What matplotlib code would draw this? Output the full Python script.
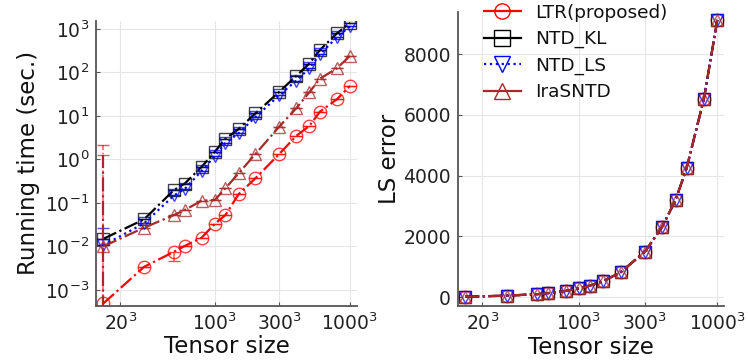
import matplotlib
matplotlib.use("Agg")
import matplotlib.pyplot as plt
import numpy as np

# ---------------- data ----------------
N = [15, 30, 50, 60, 80, 100, 120, 150, 200, 300, 400, 500, 600, 800, 1000]
sizes = [n ** 3 for n in N]

time_LTR = [4.9e-4, 3.4e-3, 7.6e-3, 1.03e-2, 1.6e-2, 3.3e-2, 5.3e-2, 0.159, 0.37,
            1.34, 3.47, 5.9, 12.6, 24.2, 49]
time_KL = [0.0150, 0.042, 0.20, 0.28, 0.68, 1.5, 3.0, 5.0, 11.5, 36, 83, 160, 330, 790, 1380]
time_LS = [0.0107, 0.034, 0.15, 0.21, 0.55, 1.2, 2.4, 4.0, 9.5, 30, 65, 125, 260, 650, 1150]
time_Ira = [0.0101, 0.027, 0.053, 0.069, 0.113, 0.117, 0.218, 0.48, 1.34, 5.7, 15, 35, 72, 125, 240]

# error bar extents (lower, upper) where visible
err_LTR_lo = [4.8e-4, 0, 0.0029, 0, 0, 0, 0, 0, 0, 0, 0, 0, 0, 0, 0]
err_LTR_hi = [2.1, 0, 0.0, 0, 0, 0, 0, 0, 0, 0, 0, 0, 0, 0, 0]
err_LS_hi = [0.016, 0, 0, 0, 0, 0, 0, 0, 0, 0, 0, 0, 0, 0, 0]
err_Ira_lo = [0.0100, 0, 0, 0, 0, 0, 0, 0, 0, 0, 0, 0, 0, 0, 0]
err_Ira_hi = [1.25, 0, 0, 0, 0, 0, 0, 0, 0, 0, 0, 0, 0, 0, 0]

ls_err = [17, 50, 100, 135, 205, 290, 380, 530, 820, 1500, 2320, 3210, 4250, 6530, 9130]

xticks = [20 ** 3, 100 ** 3, 300 ** 3, 1000 ** 3]
xticklabels = [r"$20^3$", r"$100^3$", r"$300^3$", r"$1000^3$"]
names = ["LTR(proposed)", "NTD_KL", "NTD_LS", "IraSNTD"]

# ---------------- style ----------------
plt.rcParams['font.family'] = ['DejaVu Sans']
plt.rcParams['mathtext.fontset'] = 'dejavusans'
RED = "#ff0000"
BLK = "#000000"
BLU = "#0000ff"
BRN = "#a52a2a"

fig = plt.figure(figsize=(7.48, 3.61), dpi=100)
axL = fig.add_axes([96 / 748, 1 - 306 / 361, (357 - 96) / 748, (306 - 20.7) / 361])
axR = fig.add_axes([458 / 748, 1 - 306 / 361, (724 - 458) / 748, (306 - 11.7) / 361])


def style_axes(ax):
    for s in ["top", "right"]:
        ax.spines[s].set_visible(False)
    for s in ["left", "bottom"]:
        ax.spines[s].set_color("#555555")
        ax.spines[s].set_linewidth(1.3)
    ax.grid(True, color="#e6e6e6", linewidth=0.8)
    ax.set_axisbelow(True)
    ax.tick_params(direction="in", length=3, width=0.8, colors="#555555",
                   labelcolor="#222222", labelsize=13.5, pad=5)
    ax.minorticks_off()


series = [
    (time_LTR, RED, "o", "-.", (err_LTR_lo, err_LTR_hi)),
    (time_KL, BLK, "s", "-.", None),
    (time_LS, BLU, "v", ":", ([0] * len(N), err_LS_hi)),
    (time_Ira, BRN, "^", "-.", (err_Ira_lo, err_Ira_hi)),
]

for i, ((vals, col, mk, ls, err), name) in enumerate(zip(series, names)):
    if err is None:
        yerr = np.zeros((2, len(N)))
    else:
        yerr = np.array(err)
    line, caps, bars = axL.errorbar(sizes, vals, yerr=yerr, color=col, linestyle=ls,
                                    linewidth=1.6, marker=mk, markersize=9,
                                    markerfacecolor="none", markeredgecolor=col,
                                    markeredgewidth=1.0, capsize=4.5, capthick=1.0,
                                    ecolor=col, elinewidth=1.2, label=name)
    for b in bars:
        b.set_linestyle(ls)
        if col == BRN:
            b.set_linewidth(1.6)
            b.set_zorder(4)
        elif col == RED:
            b.set_alpha(0.6)
    for c in caps:
        c.set_alpha(0.7)
    line.set_markeredgecolor(matplotlib.colors.to_rgba(col, 0.75))

axL.set_xscale("log")
axL.set_yscale("log")
axL.set_xlim(10 ** 3.365, 10 ** 9.155)
axL.set_ylim(10 ** -3.368, 10 ** 3.19)
style_axes(axL)
axL.set_xticks(xticks)
axL.set_xticklabels(xticklabels)
axL.set_yticks([1e-3, 1e-2, 1e-1, 1e0, 1e1, 1e2, 1e3])
axL.set_yticklabels([r"$10^{-3}$", r"$10^{-2}$", r"$10^{-1}$", r"$10^{0}$",
                     r"$10^{1}$", r"$10^{2}$", r"$10^{3}$"])
axL.minorticks_off()
axL.set_ylabel("Running time (sec.)", fontsize=16.5, color="#111111")
axL.set_xlabel("Tensor size", fontsize=16.5, color="#111111")
axL.yaxis.set_label_coords(-0.215, 0.5)
axL.xaxis.set_label_coords(0.5, -0.103)

# right panel
rstyles = [(RED, "o", "-."), (BLK, "s", "-."), (BLU, "v", ":"), (BRN, "^", "-.")]
for (col, mk, ls), name in zip(rstyles, names):
    axR.plot(sizes, ls_err, color=col, linestyle=ls, linewidth=1.6, marker=mk,
             markersize=9, markerfacecolor="none",
             markeredgecolor=matplotlib.colors.to_rgba(col, 0.75),
             markeredgewidth=1.0, label=name)

axR.set_xscale("log")
axR.set_xlim(10 ** 3.376, 10 ** 9.145)
axR.set_ylim(-290, 9400)
style_axes(axR)
axR.set_xticks(xticks)
axR.set_xticklabels(xticklabels)
axR.set_yticks([0, 2000, 4000, 6000, 8000])
axR.minorticks_off()
axR.set_ylabel("LS error", fontsize=16.5, color="#111111")
axR.set_xlabel("Tensor size", fontsize=16.5, color="#111111")
axR.yaxis.set_label_coords(-0.215, 0.5)
axR.xaxis.set_label_coords(0.5, -0.103)

leg_handles = []
for (col, mk, ls), name in zip(rstyles, names):
    h, = axL.plot([], [], color=col, linestyle="-" if ls != ":" else ":", linewidth=1.6,
                  marker=mk, markersize=11, markerfacecolor="none",
                  markeredgecolor=col, markeredgewidth=1.0)
    leg_handles.append(h)
leg = fig.legend(leg_handles, names, loc="upper left",
                 bbox_to_anchor=(482 / 748, 1.0 - 2 / 361), frameon=False,
                 fontsize=13.3, handlelength=2.0, handletextpad=0.8,
                 labelspacing=0.45, borderaxespad=0, borderpad=0.1)
for t in leg.get_texts():
    t.set_color("#111111")

fig.savefig("out.png", dpi=100)
